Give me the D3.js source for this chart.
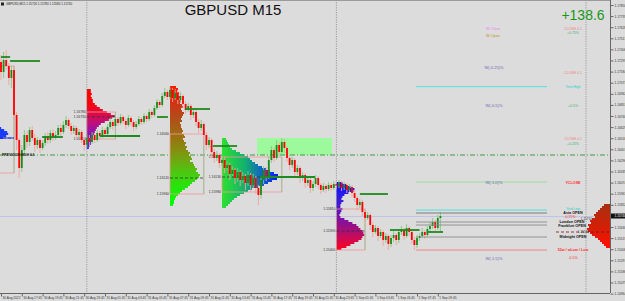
<!DOCTYPE html>
<html><head><meta charset="utf-8">
<script src="https://cdn.jsdelivr.net/npm/d3@7/dist/d3.min.js"></script>
<style>
html,body{margin:0;padding:0;background:#dcdcdc;}
svg{display:block;font-family:"Liberation Sans",Arial,sans-serif;}
</style></head><body>
<svg id="chart" width="625" height="301"></svg>
<script>
const symbol = "GBPUSD";
const timeframe = "M15";
const profitText = "+138.6";

const timeLabels = ["30 Aug 2022","30 Aug 17:45","30 Aug 19:45","30 Aug 21:45","30 Aug 23:45","31 Aug 01:45","31 Aug 03:45","31 Aug 05:45","31 Aug 07:45","31 Aug 09:45","31 Aug 11:45","31 Aug 13:45","31 Aug 15:45","31 Aug 17:45","31 Aug 19:45","31 Aug 21:45","31 Aug 23:45","1 Sep 01:45","1 Sep 03:45","1 Sep 05:45","1 Sep 07:45","1 Sep 09:45"];
const timeLabelBars = [0,8,16,24,32,40,48,56,64,72,80,88,96,104,112,120,128,136,144,152,160,168];
const dayBreakBars = [33,129,225];

const priceTicks = [1.17850,1.17739,1.17628,1.17517,1.17406,1.17295,1.17184,1.17073,1.16962,1.16851,1.16740,1.16629,1.16518,1.16407,1.16296,1.16185,1.16074,1.15963,1.15852,1.15741,1.15630,1.15519,1.15408,1.15297,1.15186,1.15075,1.14964];

const opens = [1.1728,1.1718,1.1730,1.1724,1.1712,1.1720,1.1675,1.1650,1.1622,1.1640,
1.1655,1.1648,1.1660,1.1652,1.1645,1.1650,1.1642,1.1647,1.1654,1.1650,
1.1657,1.1652,1.1655,1.1662,1.1658,1.1665,1.1670,1.1664,1.1659,1.1662,
1.1655,1.1658,1.1650,1.1645,1.1652,1.1648,1.1655,1.1650,1.1657,1.1654,
1.1660,1.1656,1.1663,1.1668,1.1664,1.1671,1.1667,1.1673,1.1669,1.1665,
1.1672,1.1668,1.1663,1.1666,1.1671,1.1668,1.1674,1.1671,1.1678,1.1675,
1.1682,1.1688,1.1685,1.1694,1.1698,1.1693,1.1700,1.1692,1.1697,1.1690,
1.1694,1.1686,1.1680,1.1684,1.1675,1.1678,1.1668,1.1662,1.1666,1.1655,
1.1645,1.1650,1.1638,1.1632,1.1635,1.1627,1.1630,1.1622,1.1625,1.1616,
1.1620,1.1612,1.1618,1.1610,1.1614,1.1607,1.1615,1.1605,1.1612,1.1602,
1.1595,1.1610,1.1620,1.1614,1.1630,1.1640,1.1632,1.1645,1.1638,1.1648,
1.1642,1.1632,1.1625,1.1630,1.1618,1.1622,1.1612,1.1615,1.1607,1.1610,
1.1602,1.1606,1.1612,1.1605,1.1600,1.1604,1.1601,1.1605,1.1602,1.1606,
1.1604,1.1607,1.1602,1.1605,1.1600,1.1603,1.1597,1.1592,1.1585,1.1588,
1.1578,1.1572,1.1575,1.1565,1.1558,1.1562,1.1554,1.1558,1.1550,1.1554,
1.1546,1.1552,1.1555,1.1550,1.1558,1.1560,1.1554,1.1562,1.1558,1.1550,
1.1545,1.1552,1.1554,1.1558,1.1555,1.1561,1.1564,1.1568,1.1562,1.1572];

const closes = [1.1718,1.1730,1.1724,1.1712,1.1720,1.1675,1.1650,1.1622,1.1640,1.1655,
1.1648,1.1660,1.1652,1.1645,1.1650,1.1642,1.1647,1.1654,1.1650,1.1657,
1.1652,1.1655,1.1662,1.1658,1.1665,1.1670,1.1664,1.1659,1.1662,1.1655,
1.1658,1.1650,1.1645,1.1652,1.1648,1.1655,1.1650,1.1657,1.1654,1.1660,
1.1656,1.1663,1.1668,1.1664,1.1671,1.1667,1.1673,1.1669,1.1665,1.1672,
1.1668,1.1663,1.1666,1.1671,1.1668,1.1674,1.1671,1.1678,1.1675,1.1682,
1.1688,1.1685,1.1694,1.1698,1.1693,1.1700,1.1692,1.1697,1.1690,1.1694,
1.1686,1.1680,1.1684,1.1675,1.1678,1.1668,1.1662,1.1666,1.1655,1.1645,
1.1650,1.1638,1.1632,1.1635,1.1627,1.1630,1.1622,1.1625,1.1616,1.1620,
1.1612,1.1618,1.1610,1.1614,1.1607,1.1615,1.1605,1.1612,1.1602,1.1595,
1.1610,1.1620,1.1614,1.1630,1.1640,1.1632,1.1645,1.1638,1.1648,1.1642,
1.1632,1.1625,1.1630,1.1618,1.1622,1.1612,1.1615,1.1607,1.1610,1.1602,
1.1606,1.1612,1.1605,1.1600,1.1604,1.1601,1.1605,1.1602,1.1606,1.1604,
1.1607,1.1602,1.1605,1.1600,1.1603,1.1597,1.1592,1.1585,1.1588,1.1578,
1.1572,1.1575,1.1565,1.1558,1.1562,1.1554,1.1558,1.1550,1.1554,1.1546,
1.1552,1.1555,1.1550,1.1558,1.1560,1.1554,1.1562,1.1558,1.1550,1.1545,
1.1552,1.1554,1.1558,1.1555,1.1561,1.1564,1.1568,1.1562,1.1572,1.1574];

const highs = [1.1735,1.1738,1.1740,1.1727,1.1724,1.1723,1.1678,1.1652,1.1645,1.1660,
1.1659,1.1663,1.1664,1.1656,1.1653,1.1652,1.1650,1.1657,1.1658,1.1660,
1.1661,1.1659,1.1665,1.1666,1.1669,1.1674,1.1672,1.1667,1.1665,1.1664,
1.1661,1.1660,1.1653,1.1656,1.1655,1.1658,1.1657,1.1660,1.1659,1.1663,
1.1662,1.1666,1.1672,1.1670,1.1674,1.1673,1.1676,1.1675,1.1671,1.1675,
1.1674,1.1670,1.1669,1.1674,1.1673,1.1677,1.1676,1.1681,1.1680,1.1685,
1.1691,1.1690,1.1697,1.1702,1.1700,1.1703,1.1702,1.1701,1.1700,1.1698,
1.1696,1.1689,1.1687,1.1686,1.1681,1.1680,1.1671,1.1670,1.1668,1.1658,
1.1653,1.1652,1.1641,1.1639,1.1637,1.1634,1.1633,1.1629,1.1627,1.1624,
1.1622,1.1622,1.1620,1.1618,1.1616,1.1619,1.1617,1.1616,1.1614,1.1605,
1.1614,1.1624,1.1623,1.1634,1.1644,1.1643,1.1650,1.1648,1.1652,1.1651,
1.1644,1.1635,1.1633,1.1632,1.1625,1.1624,1.1618,1.1617,1.1613,1.1612,
1.1609,1.1615,1.1614,1.1607,1.1607,1.1606,1.1608,1.1607,1.1609,1.1608,
1.1610,1.1609,1.1608,1.1607,1.1606,1.1605,1.1600,1.1594,1.1591,1.1590,
1.1581,1.1578,1.1577,1.1568,1.1565,1.1564,1.1561,1.1560,1.1557,1.1556,
1.1555,1.1559,1.1557,1.1561,1.1564,1.1562,1.1566,1.1564,1.1560,1.1553,
1.1555,1.1557,1.1562,1.1560,1.1564,1.1568,1.1572,1.1570,1.1575,1.1578];

const lows = [1.1710,1.1712,1.1720,1.1705,1.1702,1.1670,1.1640,1.1612,1.1618,1.1635,
1.1642,1.1644,1.1649,1.1638,1.1641,1.1637,1.1640,1.1644,1.1646,1.1647,
1.1649,1.1650,1.1652,1.1654,1.1656,1.1662,1.1661,1.1655,1.1656,1.1651,
1.1653,1.1647,1.1639,1.1642,1.1643,1.1646,1.1647,1.1648,1.1650,1.1652,
1.1653,1.1654,1.1661,1.1660,1.1662,1.1664,1.1665,1.1666,1.1661,1.1663,
1.1664,1.1659,1.1661,1.1664,1.1665,1.1666,1.1668,1.1669,1.1672,1.1673,
1.1680,1.1682,1.1683,1.1692,1.1690,1.1691,1.1688,1.1690,1.1686,1.1687,
1.1682,1.1676,1.1678,1.1670,1.1672,1.1664,1.1657,1.1659,1.1650,1.1640,
1.1642,1.1632,1.1627,1.1629,1.1622,1.1624,1.1617,1.1619,1.1610,1.1614,
1.1606,1.1608,1.1604,1.1607,1.1600,1.1604,1.1598,1.1602,1.1596,1.1585,
1.1591,1.1606,1.1609,1.1611,1.1627,1.1628,1.1630,1.1634,1.1635,1.1637,
1.1628,1.1620,1.1622,1.1614,1.1615,1.1607,1.1609,1.1602,1.1604,1.1597,
1.1599,1.1603,1.1601,1.1596,1.1598,1.1597,1.1599,1.1599,1.1600,1.1601,
1.1602,1.1599,1.1600,1.1597,1.1598,1.1593,1.1588,1.1580,1.1582,1.1574,
1.1568,1.1570,1.1560,1.1553,1.1556,1.1549,1.1552,1.1544,1.1547,1.1540,
1.1543,1.1548,1.1545,1.1547,1.1555,1.1550,1.1552,1.1554,1.1546,1.1540,
1.1542,1.1549,1.1552,1.1551,1.1553,1.1558,1.1561,1.1559,1.1560,1.1558];

// Session volume profiles
const profileStartBars = [-3, 33, 65, 85, 129];
const profileEndBars   = [5, 44, 78, 108, 140];
const profileTopPrices = [1.1662, 1.1700, 1.1703, 1.1651, 1.1607];
const profileVAH = [1.1724, 1.1678, 1.1656, 1.1633, 1.1581];
const profilePOC = [1.1652, 1.1673, 1.1612, 1.1613, 1.1559];
const profileVAL = [1.1617, 1.1651, 1.1596, 1.1598, 1.1540];
const profileVolumes = [
  [8,11,14,15,13,10],
  [4,4,5,4,5,6,6,8,10,13,16,20,24,28,25,22,18,14,12,10,9,8,7,6,6,5,4,4,3,2],
  [6,8,7,9,8,10,9,11,10,12,13,11,12,14,13,12,11,12,10,11,11,12,13,12,14,15,13,14,16,15,17,16,18,20,19,21,22,20,23,24,25,27,26,28,30,29,27,25,22,20,18,15,12,10,8,6,5,4,4,3],
  [4,5,6,7,8,10,14,18,22,26,28,30,33,36,40,44,48,52,56,58,55,50,46,42,36,30,26,22,18,15,12,10,8,6,4],
  [6,10,14,18,17,12,8,6,5,7,5,4,4,6,5,4,3,4,8,12,16,20,22,24,26,27,28,26,25,22,18,14,10,5]
];
const profileColors = [
  ["#1a3cff","#1a3cff"],
  ["#ff0000","#ff0000","#d0106a","#9010b0","#3020ff"],
  ["#ff1a00","#b84020","#a06a10","#7aa010","#30e010","#00ff00"],
  null,
  ["#1010ff","#3020e0","#7010b0","#b01070","#ff0020"]
];
// current-day profile on the right edge
const rightProfileTop = 1.1585;
const rightProfileVolumes = [6,8,10,12,14,16,15,18,20,19,22,21,23,22,20,18,15,12,10,8,6,4];
const rightProfileVAH = 1.1571;
const rightProfilePOC = 1.1558;

// session high/low green markers: [fromBar, toBar, price]
const greenLevelFrom = [0, 3.5, 15.8, 38, 60, 70.8, 81.5, 99.6, 138, 149.6, 164.2];
const greenLevelTo   = [3.5, 15, 23.8, 53.5, 64.2, 80.4, 90.8, 120.8, 148.8, 161, 170];
const greenLevelPrice= [1.1733, 1.1729, 1.1653, 1.1654, 1.1673, 1.1681, 1.1644, 1.1613, 1.1596, 1.1560, 1.1558];

const zoneBars = [98.5, 127.3];
const zonePrices = [1.1652, 1.1635];
const dashDotPrice = 1.1635;

// right-hand key levels
const levelNames  = ["Yest High","W(-1.0)% line","Yest Low","Asia OPEN","London OPEN","Frankfurt OPEN","Midnight OPEN","52w / wLow / Low"];
const levelPrices = [1.17033, 1.1608, 1.1580, 1.1577, 1.1568, 1.1565, 1.1553, 1.1540];
const levelColors = ["#40e0e0","#90e090","#40e0e0","#707070","#8a8a8a","#8a8a8a","#8a8a8a","#f07878"];
const levelFromBar = 159.6, levelToBar = 210;

const rightTexts  = ["CLOSE 0.1","+0.75%","CLOSE 0.1","Yest High","+0.5%","CLOSE 0.1","+0.25%","YCLOSE","Yest Low","Asia OPEN","-0.25%","London OPEN","Frankfurt OPEN","Midnight OPEN","52w / wLow / Low","-0.5%"];
const rightPrices = [1.1761,1.17565,1.1717,1.1703,1.1684,1.1651,1.1646,1.1607,1.15808,1.15765,1.15725,1.1568,1.1564,1.15525,1.1540,1.1532];
const rightColors = ["#f08080","#3cb371","#f08080","#20d0d0","#3cb371","#f08080","#3cb371","#ff3030","#20d0d0","#111","#ff3030","#111","#111","#111","#ff3030","#ff3030"];
const rightBold   = [0,0,0,0,0,0,0,1,0,1,0,1,1,1,1,0];
const rightX      = [573,573,573,573,573,573,573,573,573,573,570,572,572,573,573,573];

const weekTexts  = ["W(-0.25)%","W(-0.5)%","W(-1.0)%","W(-1.5)%"];
const weekPrices = [1.1722,1.1684,1.1607,1.15315];
const weekOC = ["W Close","W Open"];
const weekOCPrices = [1.1761,1.1754];
const weekOCColors = ["#ee82ee","#c09020"];

// ---------------------------------------------------------
const svg = d3.select("#chart");
const plotW = 610, plotH = 293;
const x = d3.scaleLinear().domain([0, 1]).range([1, 3.6]);
const y = d3.scaleLinear().domain([1.1790, 1.1497]).range([0, 293]);
const rowStep = 0.0002;
const rowH = y(0) - y(rowStep);
const vol = d3.scaleLinear().domain([0, 1]).range([0, 1]);

svg.append("rect").attr("width",625).attr("height",301).attr("fill","#dcdcdc");
const defs = svg.append("defs");
defs.append("clipPath").attr("id","plot").append("rect").attr("x",0).attr("y",0).attr("width",plotW).attr("height",plotH);
const g = svg.append("g").attr("clip-path","url(#plot)");

// green zone
g.append("rect").attr("x",x(zoneBars[0])).attr("y",y(zonePrices[0]))
  .attr("width",x(zoneBars[1])-x(zoneBars[0])).attr("height",y(zonePrices[1])-y(zonePrices[0]))
  .attr("fill","#9cfa9c");

// dash-dot level and bid line
g.append("line").attr("x1",0).attr("x2",plotW).attr("y1",y(dashDotPrice)).attr("y2",y(dashDotPrice))
  .attr("stroke","#3c9a3c").attr("stroke-width",1).attr("stroke-dasharray","5,2,1,2");
const lastClose = closes[closes.length-1];
g.append("line").attr("x1",0).attr("x2",plotW).attr("y1",y(lastClose)+0.5).attr("y2",y(lastClose)+0.5)
  .attr("stroke","#c2c2e6").attr("stroke-width",1);

// profiles
const grad = defs.append("linearGradient").attr("id","g3").attr("gradientUnits","userSpaceOnUse")
  .attr("x1",x(profileStartBars[3])).attr("x2",x(profileStartBars[3])+58).attr("y1",0).attr("y2",0);
[["0","#30e030"],["0.4","#12b070"],["0.7","#1060c8"],["1","#0010ff"]].forEach(s=>grad.append("stop").attr("offset",s[0]).attr("stop-color",s[1]));

profileStartBars.forEach((sb, pi) => {
  const x0 = x(sb);
  const vols = profileVolumes[pi];
  const interp = profileColors[pi] ? d3.interpolateRgbBasis(profileColors[pi]) : null;
  g.append("g").selectAll("rect").data(vols).join("rect")
    .attr("x", x0)
    .attr("y", (d,k) => y(profileTopPrices[pi] - k*rowStep) - rowH/2)
    .attr("width", d => vol(d))
    .attr("height", rowH)
    .attr("fill", (d,k) => interp ? interp(k/(vols.length-1)) : "url(#g3)");
  const x1 = x(profileEndBars[pi]);
  g.append("rect").attr("x",x0).attr("y",y(profileVAH[pi])).attr("width",x1-x0).attr("height",y(profileVAL[pi])-y(profileVAH[pi]))
    .attr("fill","none").attr("stroke","#f09a9a").attr("stroke-width",0.8);
  g.append("line").attr("x1",x1).attr("x2",x1).attr("y1",y(profileVAH[pi])).attr("y2",y(profileVAL[pi]))
    .attr("stroke","#8fc08f").attr("stroke-width",0.8);
  g.append("line").attr("x1",x0).attr("x2",x1).attr("y1",y(profilePOC[pi])).attr("y2",y(profilePOC[pi]))
    .attr("stroke","#333").attr("stroke-width",0.8).attr("stroke-dasharray","3,2");
  if (sb >= 0) {
    [profileVAH[pi], profilePOC[pi], profileVAL[pi]].forEach(p => {
      g.append("text").attr("x", x0-1).attr("y", y(p)).attr("text-anchor","end").attr("dominant-baseline","middle")
        .attr("font-size",3.4).attr("fill","#333").text(p.toFixed(5));
    });
  }
});
g.append("line").attr("x1",0).attr("x2",x(profileEndBars[0])).attr("y1",y(profilePOC[0])).attr("y2",y(profilePOC[0]))
  .attr("stroke","#2030ff").attr("stroke-width",1);

// right edge profile
const rInterp = d3.interpolateRgbBasis(["#a83010","#d02008","#ff1000"]);
g.append("g").selectAll("rect").data(rightProfileVolumes).join("rect")
  .attr("x", d => plotW - vol(d))
  .attr("y", (d,k) => y(rightProfileTop - k*rowStep) - rowH/2)
  .attr("width", d => vol(d)).attr("height", rowH)
  .attr("fill", (d,k) => rInterp(k/(rightProfileVolumes.length-1)));
g.append("line").attr("x1",556).attr("x2",plotW).attr("y1",y(rightProfilePOC)).attr("y2",y(rightProfilePOC))
  .attr("stroke","#7a1010").attr("stroke-width",0.8).attr("stroke-dasharray","3,2");
[rightProfileVAH, rightProfilePOC].forEach((p,i) => {
  g.append("text").attr("x",i===0?592:589).attr("y",y(p)).attr("text-anchor","end").attr("dominant-baseline","middle")
    .attr("font-size",3.1).attr("fill","#333").text(p.toFixed(5));
});

// candles
const candles = opens.map((o,i)=>({i, o, h:highs[i], l:lows[i], c:closes[i]}));
const cg = g.append("g");
cg.selectAll("line").data(candles).join("line")
  .attr("x1", d=>x(d.i)).attr("x2", d=>x(d.i)).attr("y1", d=>y(d.h)).attr("y2", d=>y(d.l))
  .attr("stroke", d=> d.c>=d.o ? "#80c880" : "#f4a0a0").attr("stroke-width",0.9);
cg.selectAll("rect").data(candles).join("rect")
  .attr("x", d=>x(d.i)-0.9).attr("y", d=>y(Math.max(d.o,d.c)))
  .attr("width",1.8).attr("height", d=>Math.max(0.8, y(Math.min(d.o,d.c))-y(Math.max(d.o,d.c))))
  .attr("fill", d=> d.c>=d.o ? "#1a8c1a" : "#ff0000");

// green session levels
g.append("g").selectAll("line").data(greenLevelPrice).join("line")
  .attr("x1",(d,i)=>x(greenLevelFrom[i])).attr("x2",(d,i)=>x(greenLevelTo[i]))
  .attr("y1",d=>y(d)).attr("y2",d=>y(d)).attr("stroke","#1f8a1f").attr("stroke-width",1.8);

// day separators
g.append("g").selectAll("line").data(dayBreakBars).join("line")
  .attr("x1",d=>x(d)).attr("x2",d=>x(d)).attr("y1",0).attr("y2",plotH)
  .attr("stroke","#8a8a8a").attr("stroke-width",0.8).attr("stroke-dasharray","1.2,1.2");

// key levels
g.append("g").selectAll("line").data(levelPrices).join("line")
  .attr("x1",x(levelFromBar)).attr("x2",x(levelToBar)).attr("y1",d=>y(d)).attr("y2",d=>y(d))
  .attr("stroke",(d,i)=>levelColors[i]).attr("stroke-width",0.9);

g.append("g").selectAll("text").data(rightTexts).join("text")
  .attr("x",(d,i)=>rightX[i]).attr("y",(d,i)=>y(rightPrices[i])).attr("text-anchor","middle").attr("dominant-baseline","middle")
  .attr("font-size",(d,i)=>rightBold[i]?3.7:3.5).attr("font-weight",(d,i)=>rightBold[i]?"bold":"normal")
  .attr("fill",(d,i)=>rightColors[i]).text(d=>d);

g.append("g").selectAll("text").data(weekTexts).join("text")
  .attr("x",494).attr("y",(d,i)=>y(weekPrices[i])).attr("text-anchor","middle").attr("dominant-baseline","middle")
  .attr("font-size",4).attr("fill","#6a6ab0").text(d=>d);
g.append("g").selectAll("text").data(weekOC).join("text")
  .attr("x",486).attr("y",(d,i)=>y(weekOCPrices[i])).attr("dominant-baseline","middle")
  .attr("font-size",3.8).attr("fill",(d,i)=>weekOCColors[i]).text(d=>d);

g.append("text").attr("x",2).attr("y",y(dashDotPrice)).attr("dominant-baseline","middle")
  .attr("font-size",3.4).attr("font-weight","bold").attr("fill","#111").text("PREVIOUS HIGH 0.1");

// title & profit
svg.append("text").attr("x",233).attr("y",15).attr("text-anchor","middle").attr("font-size",15).attr("fill","#111").text(symbol+" "+timeframe);
svg.append("text").attr("x",583).attr("y",20).attr("text-anchor","middle").attr("font-size",14).attr("fill","#1a961a").text(profitText);

// info line
const li = closes.length-1;
svg.append("rect").attr("x",1).attr("y",2.5).attr("width",3).attr("height",3).attr("fill","#222");
svg.append("text").attr("x",6).attr("y",5.2).attr("font-size",3).attr("fill","#222")
  .text(`${symbol},${timeframe}  ${opens[li].toFixed(5)} ${highs[li].toFixed(5)} ${lows[li].toFixed(5)} ${closes[li].toFixed(5)}`);

// frame
svg.append("line").attr("x1",0).attr("x2",plotW).attr("y1",0.5).attr("y2",0.5).attr("stroke","#9a9a9a");

// axes
const yAxis = d3.axisRight(y).tickValues(priceTicks).tickSize(3).tickSizeOuter(0).tickFormat(d3.format(".5f"));
const ya = svg.append("g").attr("transform",`translate(${plotW+0.5},0)`).call(yAxis);
ya.attr("font-size",3.2).attr("font-family","Liberation Sans, Arial, sans-serif");
ya.select(".domain").attr("stroke","#666").attr("d",`M0,0V${plotH}`);
ya.selectAll(".tick line").attr("stroke","#666");
ya.selectAll(".tick text").attr("x",4).attr("fill","#333");

const xAxis = d3.axisBottom(x).tickValues(timeLabelBars).tickSize(3).tickSizeOuter(0).tickFormat((d,i)=>timeLabels[i]);
const xa = svg.append("g").attr("transform",`translate(0,${plotH+0.5})`).call(xAxis);
xa.attr("font-size",3.2).attr("font-family","Liberation Sans, Arial, sans-serif");
xa.select(".domain").attr("stroke","#666").attr("d",`M0,0H${plotW}`);
xa.selectAll(".tick line").attr("stroke","#666");
xa.selectAll(".tick text").attr("text-anchor","start").attr("x",1).attr("y",3).attr("fill","#333");

// current price marker
svg.append("rect").attr("x",plotW+1).attr("y",y(lastClose)-2.5).attr("width",14).attr("height",5).attr("fill","#111");
svg.append("text").attr("x",plotW+4.5).attr("y",y(lastClose)).attr("dominant-baseline","middle")
  .attr("font-size",3.2).attr("fill","#fff").text(d3.format(".5f")(lastClose));
</script>
</body></html>
